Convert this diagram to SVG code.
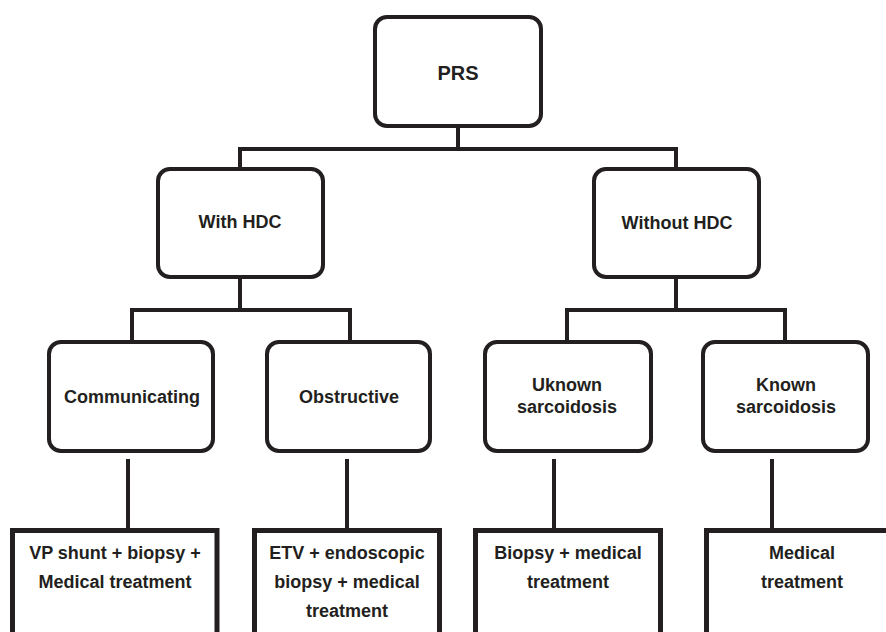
<svg xmlns="http://www.w3.org/2000/svg" width="886" height="632" viewBox="0 0 886 632">
<style>
.box{fill:#fff;stroke:#231f20;stroke-width:4}
.leaf{fill:#fff;stroke:#231f20;stroke-width:5}
.conn{fill:none;stroke:#231f20;stroke-width:4;stroke-linecap:square}
text{font-family:"Liberation Sans",Arial,sans-serif;font-weight:bold;font-size:18px;fill:#231f20;text-anchor:middle}
</style>
<rect width="886" height="632" fill="#fff"/>
<g id="connectors">
<path class="conn" d="M458 128V149M240 149H676M240 149V167M676 149V167"/>
<path class="conn" d="M240 279V310M132 310H350M132 310V340M350 310V340"/>
<path class="conn" d="M676 279V310M567 310H785M567 310V340M785 310V340"/>
<path class="conn" d="M128 461V530M347 461V530M554 461V530M772 461V530"/>
</g>
<g id="prs"><rect class="box" x="375" y="17" width="166" height="109" rx="12"/><text x="458" y="80" style="font-size:20px">PRS</text></g>
<g id="with-hdc"><rect class="box" x="158" y="169" width="165" height="108" rx="12"/><text x="240" y="228">With HDC</text></g>
<g id="without-hdc"><rect class="box" x="594" y="169" width="165" height="108" rx="12"/><text x="677" y="229">Without HDC</text></g>
<g id="communicating"><rect class="box" x="49" y="342" width="164" height="109" rx="12"/><text x="132" y="403">Communicating</text></g>
<g id="obstructive"><rect class="box" x="267" y="342" width="163" height="109" rx="12"/><text x="349" y="403">Obstructive</text></g>
<g id="unknown"><rect class="box" x="485" y="342" width="166" height="109" rx="12"/><text x="567" y="391">Uknown</text><text x="567" y="413">sarcoidosis</text></g>
<g id="known"><rect class="box" x="703" y="342" width="165" height="109" rx="12"/><text x="786" y="391">Known</text><text x="786" y="413">sarcoidosis</text></g>
<g id="vp-shunt"><rect class="leaf" x="12.5" y="530.5" width="204.5" height="120"/><text x="115" y="559">VP shunt + biopsy +</text><text x="115" y="588">Medical treatment</text></g>
<g id="etv"><rect class="leaf" x="254.5" y="530.5" width="185" height="120"/><text x="347" y="559">ETV + endoscopic</text><text x="347" y="588">biopsy + medical</text><text x="347" y="617">treatment</text></g>
<g id="biopsy"><rect class="leaf" x="475.5" y="530.5" width="185" height="120"/><text x="568" y="559">Biopsy + medical</text><text x="568" y="588">treatment</text></g>
<g id="medical"><rect class="leaf" x="706.5" y="530.5" width="200" height="120"/><text x="802" y="559">Medical</text><text x="802" y="588">treatment</text></g>
</svg>
